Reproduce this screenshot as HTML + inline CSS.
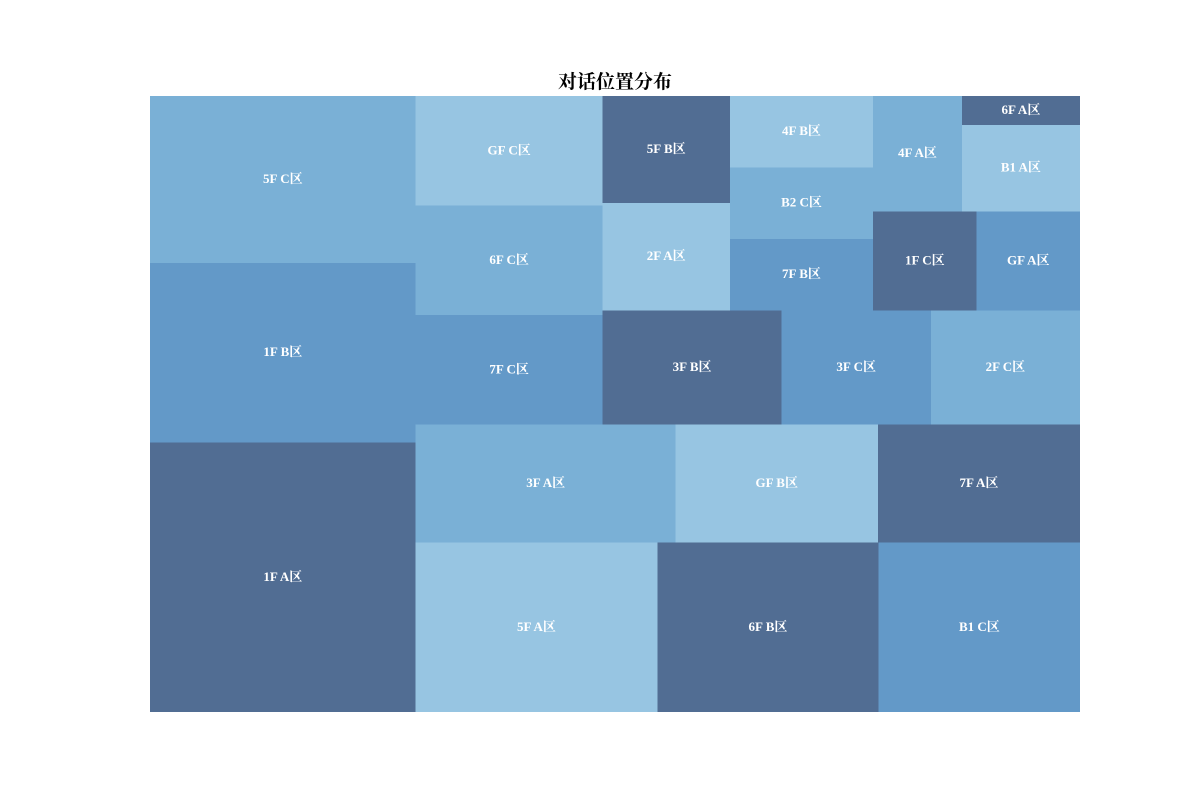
<!DOCTYPE html>
<html>
<head>
<meta charset="utf-8">
<style>
  html, body { margin: 0; padding: 0; background: #ffffff; }
  body { width: 1200px; height: 800px; overflow: hidden; }
  svg { display: block; }
</style>
</head>
<body>
<svg id="chart" width="1200" height="800" xmlns="http://www.w3.org/2000/svg">
  <text x="615" y="88" text-anchor="middle" font-family="'Liberation Serif', 'Noto Serif CJK SC', serif" font-weight="bold" font-size="19" fill="#000">对话位置分布</text>
  <g id="cells"></g>
</svg>
<script>
const labels = ["1F A区","1F B区","5F C区","5F A区","6F B区","B1 C区","3F A区","GF B区","7F A区","7F C区","6F C区","GF C区","3F B区","3F C区","2F C区","2F A区","5F B区","7F B区","B2 C区","4F B区","1F C区","GF A区","4F A区","B1 A区","6F A区"];
const values = [21,14,13,12,11,10,9,7,7,6,6,6,6,5,5,4,4,3,3,3,3,3,3,3,1];
const palette = ["#516d93","#6399c8","#7ab0d6","#97c5e2"];

const PX0 = 150, PX1 = 1080, PY0 = 96, PY1 = 712;

function layoutrow(sizes, x, y, dx, dy) {
  const covered = sizes.reduce((a, b) => a + b, 0);
  const width = covered / dy;
  const rects = [];
  for (const s of sizes) { rects.push({x: x, y: y, dx: width, dy: s / width}); y += s / width; }
  return rects;
}
function layoutcol(sizes, x, y, dx, dy) {
  const covered = sizes.reduce((a, b) => a + b, 0);
  const height = covered / dx;
  const rects = [];
  for (const s of sizes) { rects.push({x: x, y: y, dx: s / height, dy: height}); x += s / height; }
  return rects;
}
function layout(sizes, x, y, dx, dy) {
  return dx >= dy ? layoutrow(sizes, x, y, dx, dy) : layoutcol(sizes, x, y, dx, dy);
}
function leftover(sizes, x, y, dx, dy) {
  const covered = sizes.reduce((a, b) => a + b, 0);
  if (dx >= dy) { const w = covered / dy; return [x + w, y, dx - w, dy]; }
  const h = covered / dx; return [x, y + h, dx, dy - h];
}
function worst(sizes, x, y, dx, dy) {
  return Math.max(...layout(sizes, x, y, dx, dy).map(r => Math.max(r.dx / r.dy, r.dy / r.dx)));
}
function squarify(sizes, x, y, dx, dy) {
  if (sizes.length === 0) return [];
  if (sizes.length === 1) return layout(sizes, x, y, dx, dy);
  let i = 1;
  while (i < sizes.length && worst(sizes.slice(0, i), x, y, dx, dy) >= worst(sizes.slice(0, i + 1), x, y, dx, dy)) i++;
  const cur = sizes.slice(0, i), rem = sizes.slice(i);
  const lo = leftover(cur, x, y, dx, dy);
  return layout(cur, x, y, dx, dy).concat(squarify(rem, lo[0], lo[1], lo[2], lo[3]));
}

const order = values.map((v, i) => i).sort((a, b) => (values[b] - values[a]) || (a - b));
const total = values.reduce((a, b) => a + b, 0);
const sizes = order.map(i => values[i] * 100 * 100 / total);
const rects = squarify(sizes, 0, 0, 100, 100);

const sx = v => PX0 + v / 100 * (PX1 - PX0);
const sy = v => PY1 - v / 100 * (PY1 - PY0);

const g = document.getElementById('cells');
const NS = 'http://www.w3.org/2000/svg';
rects.forEach((r, k) => {
  const idx = order[k];
  const x0 = sx(r.x), x1 = sx(r.x + r.dx), y0 = sy(r.y + r.dy), y1 = sy(r.y);
  const rect = document.createElementNS(NS, 'rect');
  rect.setAttribute('x', x0);
  rect.setAttribute('y', y0);
  rect.setAttribute('width', x1 - x0);
  rect.setAttribute('height', y1 - y0);
  rect.setAttribute('fill', palette[k % palette.length]);
  rect.setAttribute('shape-rendering', 'crispEdges');
  
  
  g.appendChild(rect);
  const t = document.createElementNS(NS, 'text');
  t.setAttribute('x', (x0 + x1) / 2);
  t.setAttribute('y', (y0 + y1) / 2 + 3.5);
  t.setAttribute('text-anchor', 'middle');
  t.setAttribute('font-family', "'Liberation Serif', 'Noto Serif CJK SC', serif");
  t.setAttribute('font-size', '13');
  t.setAttribute('font-weight', 'bold');
  t.setAttribute('fill', '#ffffff');
  t.textContent = labels[idx];
  
  
  g.appendChild(t);
});
</script>
</body>
</html>
